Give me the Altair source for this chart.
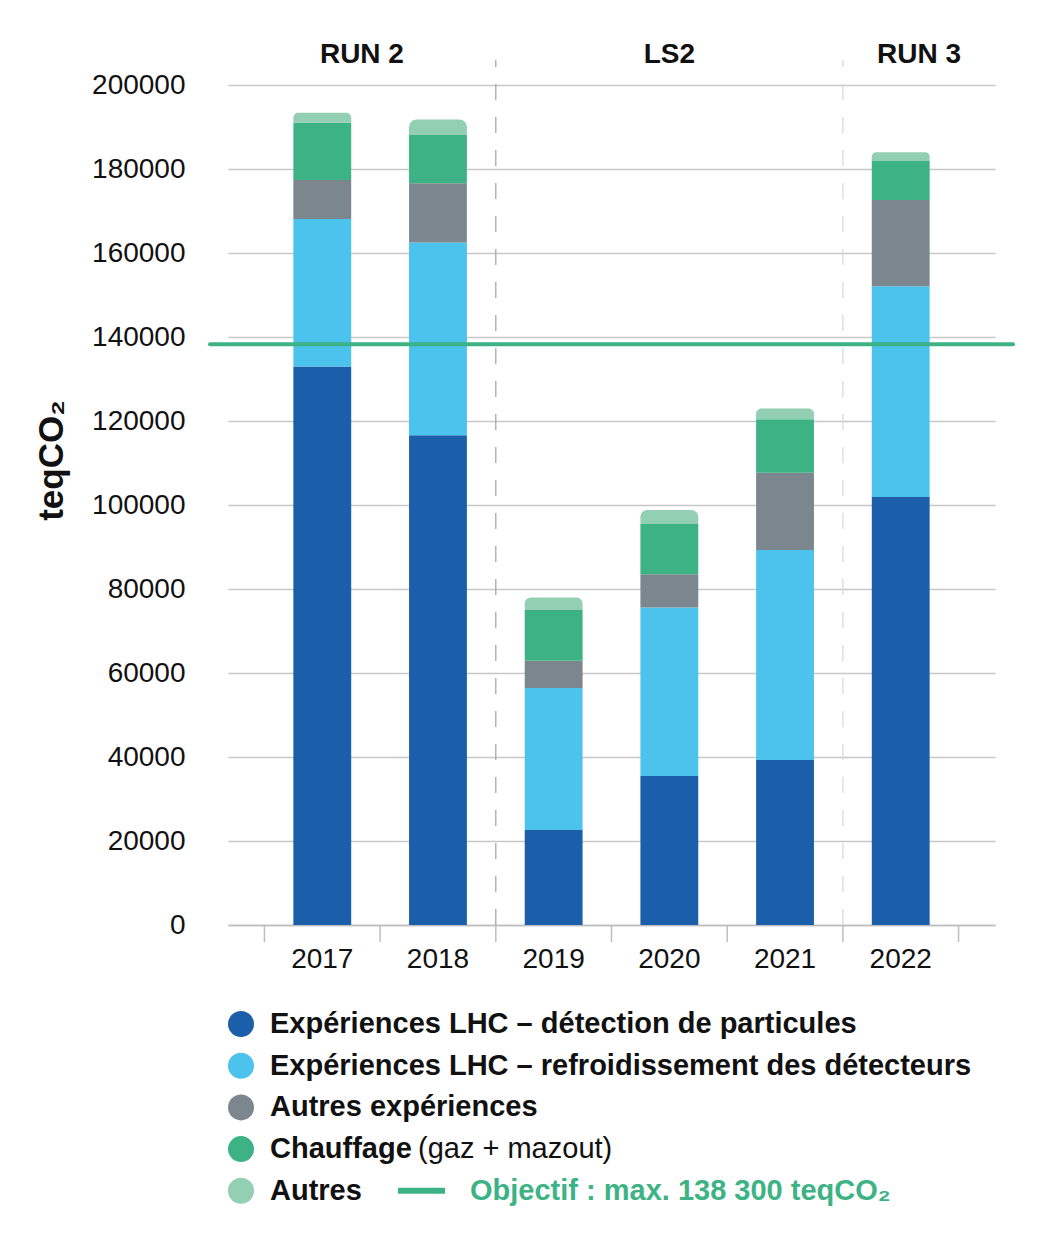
import altair as alt
import pandas as pd

# ---------------- data ----------------
years = ["2017", "2018", "2019", "2020", "2021", "2022"]
detection = [133000, 116600, 22600, 35500, 39300, 101900]
refroid = [35100, 45900, 33800, 40100, 50000, 50200]
autres_exp = [9300, 14100, 6500, 7900, 18400, 20500]
chauffage = [13600, 11500, 12100, 12000, 12700, 9300]
autres = [2400, 3700, 3000, 3300, 2600, 2100]

categories = [
    "Expériences LHC – détection de particules",
    "Expériences LHC – refroidissement des détecteurs",
    "Autres expériences",
    "Chauffage",
    "Autres",
]
colors = ["#1b5ea9", "#4bc3ec", "#7b868e", "#3db385", "#92cfb3"]
series = [detection, refroid, autres_exp, chauffage, autres]

objective = 138300
objective_label = "Objectif : max. 138 300 teqCO₂"
periods = ["RUN 2", "LS2", "RUN 3"]
period_breaks = ["2018", "2021"]          # period boundaries lie after these years
y_ticks = list(range(0, 200001, 20000))

# ---------------- layout ----------------
W, H = 767, 840
FONT = "Liberation Sans"
P_IN, P_OUT = 0.5, 0.565
step = W / (len(years) - P_IN + 2 * P_OUT)
half_gap = P_IN * step / 2
TICK = 17

rows = []
for ci, (cat, vals) in enumerate(zip(categories, series)):
    for yi, yr in enumerate(years):
        base = sum(series[k][yi] for k in range(ci))
        rows.append({"year": yr, "cat": cat, "y0": base, "y1": base + vals[yi]})
df = pd.DataFrame(rows)

xscale = alt.Scale(domain=years, paddingInner=P_IN, paddingOuter=P_OUT)
yscale = alt.Scale(domain=[0, 200000], nice=False)
cscale = alt.Scale(domain=categories, range=colors)

x_enc = alt.X(
    "year:O", scale=xscale,
    axis=alt.Axis(title=None, labelAngle=0, labelFontSize=28, labelColor="#111",
                  labelFont=FONT, ticks=False, domainColor="#bdbdbd", domainWidth=1.5,
                  labelBaseline="alphabetic", labelPadding=42, grid=False),
)
y_enc = alt.Y(
    "y0:Q", scale=yscale,
    axis=alt.Axis(values=y_ticks, format="d", labelFontSize=28, labelColor="#111",
                  labelFont=FONT, labelPadding=43, domain=False, ticks=False,
                  gridColor="#c8c8c8", gridWidth=1.5,
                  title="teqCO₂", titleX=-177, titleY=375, titleAngle=270,
                  titleFontSize=35, titleFontWeight="bold", titleAlign="center",
                  titleBaseline="middle", titleColor="#111", titleFont=FONT),
)

bars_low = alt.Chart(df[df["cat"] != categories[-1]]).mark_bar().encode(
    x=x_enc, y=y_enc, y2="y1:Q",
    color=alt.Color("cat:N", scale=cscale, legend=None),
)
bars_top = alt.Chart(df[df["cat"] == categories[-1]]).mark_bar(
    cornerRadiusTopLeft=8, cornerRadiusTopRight=8
).encode(
    x=alt.X("year:O", scale=xscale), y=alt.Y("y0:Q", scale=yscale), y2="y1:Q",
    color=alt.Color("cat:N", scale=cscale, legend=None),
)

# x-axis interval ticks (between bars, plus one after the last bar)
tick_style = dict(color="#bdbdbd", strokeWidth=1.5)
ticks_left = alt.Chart(pd.DataFrame({"year": years})).mark_rule(
    xOffset=-half_gap, **tick_style
).encode(
    x=alt.X("year:O", scale=xscale, bandPosition=0),
    y=alt.value(H), y2=alt.value(H + TICK),
)
ticks_end = alt.Chart(pd.DataFrame({"year": years[-1:]})).mark_rule(
    xOffset=half_gap, **tick_style
).encode(
    x=alt.X("year:O", scale=xscale, bandPosition=1),
    y=alt.value(H), y2=alt.value(H + TICK),
)

sep_colors = ["#a0a0a0", "#d6d6d6"]
seps = [
    alt.Chart(pd.DataFrame({"year": [yr]})).mark_rule(
        color=c, strokeWidth=1.2, strokeDash=[16, 17], xOffset=half_gap
    ).encode(
        x=alt.X("year:O", scale=xscale, bandPosition=1),
        y=alt.value(H), y2=alt.value(-25),
    )
    for yr, c in zip(period_breaks, sep_colors)
]

obj_rule = alt.Chart(pd.DataFrame({"v": [objective]})).mark_rule(
    color="#3db385", strokeWidth=4, strokeCap="round"
).encode(
    y=alt.datum(objective, type="quantitative"),
    x=alt.value(-18), x2=alt.value(W + 18),
)

# period header positions (centres of the period spans)
b1 = step * P_OUT - half_gap + 2 * step
b2 = b1 + 3 * step
header_x = [b1 / 2, (b1 + b2) / 2, (b2 + W) / 2]
headers = [
    alt.Chart(pd.DataFrame({"t": [p]})).mark_text(
        fontSize=28, fontWeight="bold", font=FONT, color="#111", baseline="middle"
    ).encode(text="t:N", x=alt.value(hx), y=alt.value(-30))
    for p, hx in zip(periods, header_x)
]

# custom legend
LEG_FS = 29
leg_y0, leg_dy = 939, 41.7
legend_layers = []
for i, (cat, c) in enumerate(zip(categories, colors)):
    ly = leg_y0 + i * leg_dy
    legend_layers.append(
        alt.Chart(pd.DataFrame({"t": [cat]})).mark_point(
            filled=True, shape="circle", size=676, opacity=1, color=c
        ).encode(x=alt.value(13), y=alt.value(ly))
    )
    legend_layers.append(
        alt.Chart(pd.DataFrame({"t": [cat]})).mark_text(
            fontSize=LEG_FS, fontWeight="bold", font=FONT, color="#111",
            align="left", baseline="middle"
        ).encode(text="t:N", x=alt.value(42), y=alt.value(ly))
    )
    if cat == "Chauffage":
        legend_layers.append(
            alt.Chart(pd.DataFrame({"t": ["(gaz + mazout)"]})).mark_text(
                fontSize=LEG_FS, font=FONT, color="#111", align="left", baseline="middle"
            ).encode(text="t:N", x=alt.value(190), y=alt.value(ly))
        )
ly_last = leg_y0 + 4 * leg_dy
legend_layers.append(
    alt.Chart(pd.DataFrame({"t": ["obj"]})).mark_rule(
        color="#3db385", strokeWidth=6
    ).encode(x=alt.value(170), x2=alt.value(217), y=alt.value(ly_last))
)
legend_layers.append(
    alt.Chart(pd.DataFrame({"t": [objective_label]})).mark_text(
        fontSize=LEG_FS, fontWeight="bold", font=FONT, color="#3db385",
        align="left", baseline="middle"
    ).encode(text="t:N", x=alt.value(242), y=alt.value(ly_last))
)

chart = alt.layer(
    bars_low, bars_top, ticks_left, ticks_end, *seps, obj_rule, *headers, *legend_layers
).properties(
    width=W, height=H,
    padding={"left": 220, "top": 77, "right": 30, "bottom": 290},
    autosize=alt.AutoSizeParams(type="none"),
).configure(
    font=FONT, background="white", view=alt.ViewConfig(stroke=None)
)

chart.save("out.html", embed_options={"renderer": "svg", "actions": False})
